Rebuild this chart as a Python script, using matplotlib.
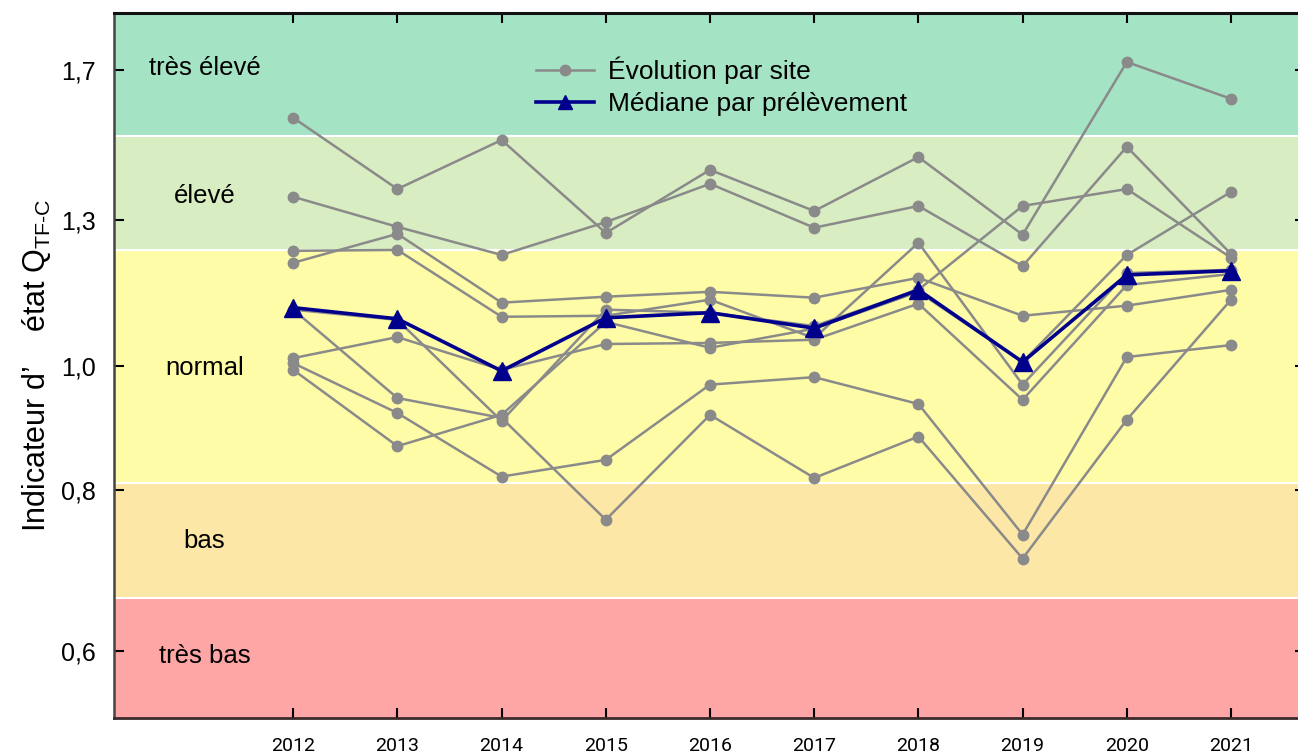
import matplotlib
matplotlib.use("Agg")
import matplotlib.pyplot as plt
from matplotlib.ticker import FixedLocator, FixedFormatter, NullLocator
from matplotlib.lines import Line2D

plt.rcParams['font.family'] = ['Liberation Sans', 'DejaVu Sans']
plt.rcParams['mathtext.fontset'] = 'custom'
plt.rcParams['mathtext.rm'] = 'Liberation Sans'
plt.rcParams['mathtext.it'] = 'Liberation Sans'

years = [2012, 2013, 2014, 2015, 2016, 2017, 2018, 2019, 2020, 2021]

site_a = [1.560, 1.373, 1.499, 1.269, 1.421, 1.320, 1.454, 1.265, 1.724, 1.614]
site_b = [1.354, 1.283, 1.220, 1.294, 1.386, 1.281, 1.332, 1.196, 1.481, 1.222]
site_c = [1.229, 1.231, 1.092, 1.094, 1.126, 1.051, 1.247, 0.967, 1.181, 1.188]
site_d = [1.203, 1.267, 1.120, 1.132, 1.142, 1.130, 1.171, 1.094, 1.114, 1.146]
site_e = [1.106, 0.944, 0.911, 0.759, 0.916, 0.818, 0.881, 0.708, 0.908, 1.126]
site_f = [1.014, 1.053, 0.993, 1.040, 1.042, 1.048, 1.118, 0.941, 1.156, 1.179]
site_g = [1.005, 0.919, 0.820, 0.845, 0.967, 0.980, 0.934, 0.739, 1.016, 1.038]
site_h = [0.993, 0.866, 0.916, 1.082, 1.033, 1.069, 1.142, 1.007, 1.220, 1.366]
site_i = [1.106, 1.086, 0.906, 1.106, 1.100, 1.074, 1.146, 1.332, 1.373, 1.214]
sites = [site_a, site_b, site_c, site_d, site_e, site_f, site_g, site_h, site_i]

median = [1.110, 1.088, 0.991, 1.090, 1.100, 1.070, 1.146, 1.007, 1.177, 1.186]

band_edges = [0.50, 0.66, 0.81, 1.23, 1.51, 2.0]
band_names = ["très bas", "bas", "normal", "élevé", "très élevé"]
band_label_y = [0.595, 0.730, 0.997, 1.355, 1.705]
band_colors = ["#fea5a5", "#fde7a6", "#fffca8", "#d8edc2", "#a5e3c5"]

ytick_vals = [0.6, 0.8, 1.0, 1.3, 1.7]
ytick_labels = ["0,6", "0,8", "1,0", "1,3", "1,7"]

fig = plt.figure(figsize=(12.98, 7.53), dpi=100)
ax = fig.add_axes([0.0878, 0.0465, 0.9176, 0.9365])
ax.set_yscale('log')
ax.set_xlim(2010.28, 2021.71)
ax.set_ylim(0.532, 1.883)

for i in range(len(band_colors)):
    ax.axhspan(band_edges[i], band_edges[i + 1], color=band_colors[i], zorder=0, lw=0)
for e in band_edges[1:-1]:
    ax.axhline(e, color='white', lw=1.5, zorder=0.5)

for name, yv in zip(band_names, band_label_y):
    ax.text(2011.15, yv, name, fontsize=18.5, ha='center', va='center', zorder=1)

for s in sites:
    ax.plot(years, s, color='#8a8a8a', lw=1.8, marker='o', ms=7.5, zorder=2)
ax.plot(years, median, color='#00008c', lw=2.6, marker='^', ms=13, zorder=3)

ax.yaxis.set_major_locator(FixedLocator(ytick_vals))
ax.yaxis.set_major_formatter(FixedFormatter(ytick_labels))
ax.yaxis.set_minor_locator(NullLocator())
ax.set_xticks(years)
ax.set_xticklabels([str(y) for y in years], family='Roboto', fontsize=14)
ax.tick_params(axis='y', labelsize=18, direction='in', length=7, width=1.5,
               right=True, pad=13)
ax.tick_params(axis='x', direction='in', length=7, width=1.5, top=True, pad=14)

ax.spines['top'].set_linewidth(2.2)
ax.spines['top'].set_color('#111111')
ax.spines['bottom'].set_linewidth(2)
ax.spines['bottom'].set_color('#3a2a2a')
ax.spines['left'].set_linewidth(1.8)
ax.spines['left'].set_color('#444444')

ax.set_ylabel("Indicateur d\u2019    état Q$_{\\mathrm{TF\u2010C}}$", fontsize=22, labelpad=6)

handles = [Line2D([], [], color='#8a8a8a', lw=1.8, marker='o', ms=7.5),
           Line2D([], [], color='#00008c', lw=2.6, marker='^', ms=10)]
ax.legend(handles, ["Évolution par site", "Médiane par prélèvement"],
          loc='upper left', bbox_to_anchor=(0.334, 0.972), frameon=False,
          fontsize=19, handlelength=2.2, labelspacing=0.32, handletextpad=0.55)

fig.savefig("out.png", dpi=100)
